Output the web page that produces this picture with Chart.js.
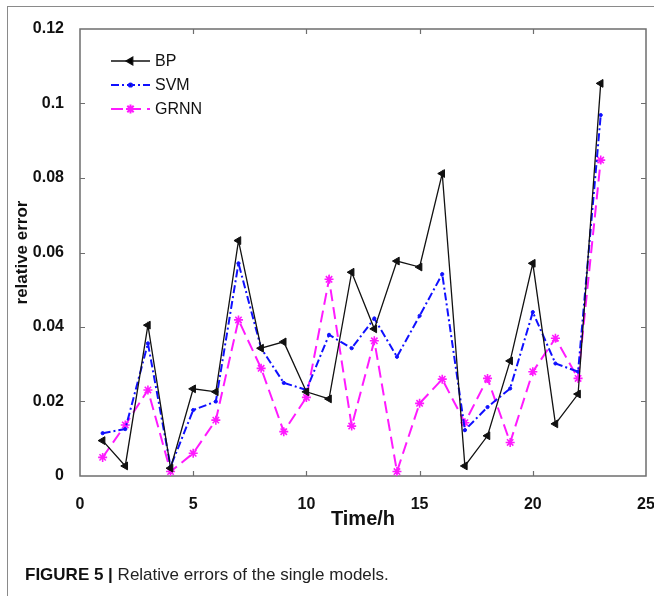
<!DOCTYPE html>
<html>
<head>
<meta charset="utf-8">
<script src="https://cdn.jsdelivr.net/npm/chart.js@4.4.1/dist/chart.umd.min.js"></script>
<style>
  html, body { margin: 0; padding: 0; background: #fff; }
  #wrap { position: relative; width: 654px; height: 596px; overflow: hidden; }
  #frame {
    position: absolute; left: 7px; top: 6px; right: -2px; bottom: -2px;
    border-top: 1.5px solid #8a8a8a; border-left: 1.5px solid #8a8a8a;
  }
  #chart { position: absolute; left: 0; top: 0; }
  #caption {
    position: absolute; left: 25px; top: 565px;
    font-family: "Liberation Sans", Arial, sans-serif; font-size: 17px;
    color: #222; white-space: nowrap;
  }
  #caption b { font-weight: bold; color: #111; }
</style>
</head>
<body>
<div id="wrap">
  <div id="frame"></div>
  <canvas id="chart" width="654" height="596"></canvas>
  <div id="caption"><b>FIGURE 5 |</b> Relative errors of the single models.</div>
</div>
<script>
// hours on the x axis
const hours = [1, 2, 3, 4, 5, 6, 7, 8, 9, 10, 11, 12, 13, 14, 15, 16, 17, 18, 19, 20, 21, 22, 23];

// relative error of each single model
const bp = [0.0095, 0.0027, 0.0405, 0.0021, 0.0234, 0.0226, 0.0632, 0.0343, 0.0360, 0.0226, 0.0207, 0.0547,
  0.0395, 0.0577, 0.0561, 0.0812, 0.0027, 0.0108, 0.0309, 0.0571, 0.0140, 0.0220, 0.1054];
const svm = [0.0115, 0.0126, 0.0356, 0.0025, 0.0177, 0.0200, 0.0571, 0.0343, 0.0250, 0.0231, 0.0379, 0.0343,
  0.0423, 0.0320, 0.0430, 0.0542, 0.0123, 0.0185, 0.0235, 0.0440, 0.0302, 0.0280, 0.0969];
const grnn = [0.0050, 0.0137, 0.0231, 0.0012, 0.0061, 0.0150, 0.0419, 0.0289, 0.0119, 0.0211, 0.0528, 0.0134,
  0.0363, 0.0012, 0.0195, 0.0260, 0.0143, 0.0262, 0.0090, 0.0280, 0.0370, 0.0262, 0.0848];

const xTicks = [0, 5, 10, 15, 20, 25];
const yTicks = [0, 0.02, 0.04, 0.06, 0.08, 0.1, 0.12];

const toPoints = (vals) => vals.map((v, i) => ({ x: hours[i], y: v }));

const boxColor = "#6e6e6e";
const tickFont = { family: "'Liberation Sans', Arial, sans-serif", size: 16, weight: "bold" };

// box around the plot with inward ticks on all four sides
const boxPlugin = {
  id: "boxTicks",
  beforeDatasetsDraw(chart) {
    const { ctx, chartArea: a, scales } = chart;
    ctx.save();
    ctx.strokeStyle = boxColor;
    ctx.lineWidth = 1.5;
    ctx.strokeRect(a.left, a.top, a.right - a.left, a.bottom - a.top);
    ctx.lineWidth = 1.2;
    ctx.beginPath();
    xTicks.slice(1, -1).forEach(t => {
      const px = Math.round(scales.x.getPixelForValue(t)) + 0.5;
      ctx.moveTo(px, a.bottom); ctx.lineTo(px, a.bottom - 5);
      ctx.moveTo(px, a.top); ctx.lineTo(px, a.top + 5);
    });
    yTicks.slice(1, -1).forEach(t => {
      const py = Math.round(scales.y.getPixelForValue(t)) + 0.5;
      ctx.moveTo(a.left, py); ctx.lineTo(a.left + 5, py);
      ctx.moveTo(a.right, py); ctx.lineTo(a.right - 5, py);
    });
    ctx.stroke();
    ctx.restore();
  }
};

// legend in the upper left corner of the plot
const legendPlugin = {
  id: "cornerLegend",
  afterDatasetsDraw(chart) {
    const { ctx } = chart;
    const x0 = 111, x1 = 150, yStart = 61, step = 24;
    ctx.save();
    chart.data.datasets.forEach((ds, i) => {
      const y = yStart + i * step;
      ctx.strokeStyle = ds.borderColor;
      ctx.lineWidth = ds.borderWidth;
      ctx.setLineDash(ds.borderDash || []);
      ctx.beginPath();
      ctx.moveTo(x0, y); ctx.lineTo(x1, y);
      ctx.stroke();
      ctx.setLineDash([]);
      Chart.helpers.drawPoint(ctx, {
        pointStyle: ds.pointStyle,
        rotation: ds.pointRotation || 0,
        radius: ds.pointRadius,
        borderWidth: ds.pointBorderWidth || 1
      }, (x0 + x1) / 2, y);
      ctx.fillStyle = "#111";
      ctx.font = "16px 'Liberation Sans', Arial, sans-serif";
      ctx.textBaseline = "middle";
      ctx.fillText(ds.label, 155, y + 1);
    });
    ctx.restore();
  }
};

new Chart(document.getElementById("chart"), {
  type: "line",
  data: {
    datasets: [
      {
        label: "BP",
        data: toPoints(bp),
        borderColor: "#111",
        backgroundColor: "#111",
        pointBackgroundColor: "#111",
        pointBorderColor: "#111",
        borderWidth: 1.3,
        pointStyle: "triangle",
        pointRotation: -90,
        pointRadius: 4.5,
        pointBorderWidth: 1
      },
      {
        label: "SVM",
        data: toPoints(svm),
        borderColor: "#1010ff",
        backgroundColor: "#1010ff",
        pointBackgroundColor: "#1010ff",
        pointBorderColor: "#1010ff",
        borderWidth: 2,
        borderDash: [8, 3, 2, 3],
        pointStyle: "circle",
        pointRadius: 1.6,
        pointBorderWidth: 1
      },
      {
        label: "GRNN",
        data: toPoints(grnn),
        borderColor: "#ff1aff",
        backgroundColor: "#ff1aff",
        pointBackgroundColor: "#ff1aff",
        pointBorderColor: "#ff1aff",
        borderWidth: 2,
        borderDash: [12, 6],
        pointStyle: "star",
        pointRadius: 4.5,
        pointBorderWidth: 1.6
      }
    ]
  },
  options: {
    responsive: false,
    animation: false,
    layout: { padding: { left: 0, top: 29, right: 8, bottom: 65 } },
    plugins: {
      legend: { display: false },
      tooltip: { enabled: false }
    },
    scales: {
      x: {
        type: "linear",
        min: 0,
        max: 25,
        afterBuildTicks: (s) => { s.ticks = xTicks.map(v => ({ value: v })); },
        afterFit: (s) => { s.height = 55; s.paddingLeft = 0; s.paddingRight = 0; },
        grid: { display: false },
        border: { display: false },
        ticks: { color: "#111", font: tickFont, padding: 11, maxRotation: 0 },
        title: {
          display: true,
          text: "Time/h",
          color: "#111",
          font: { family: "'Liberation Sans', Arial, sans-serif", size: 20, weight: "bold" },
          padding: { top: 0, bottom: 0 }
        }
      },
      y: {
        type: "linear",
        min: 0,
        max: 0.12,
        afterBuildTicks: (s) => { s.ticks = yTicks.map(v => ({ value: v })); },
        afterFit: (s) => { s.width = 80; s.paddingTop = 0; s.paddingBottom = 0; },
        grid: { display: false },
        border: { display: false },
        ticks: {
          color: "#111",
          font: tickFont,
          padding: 8,
          callback: (v) => String(+v.toFixed(2))
        },
        title: {
          display: true,
          text: "relative error",
          color: "#111",
          font: { family: "'Liberation Sans', Arial, sans-serif", size: 17, weight: "bold" },
          padding: { top: 12, bottom: 0 }
        }
      }
    }
  },
  plugins: [boxPlugin, legendPlugin]
});
</script>
</body>
</html>
